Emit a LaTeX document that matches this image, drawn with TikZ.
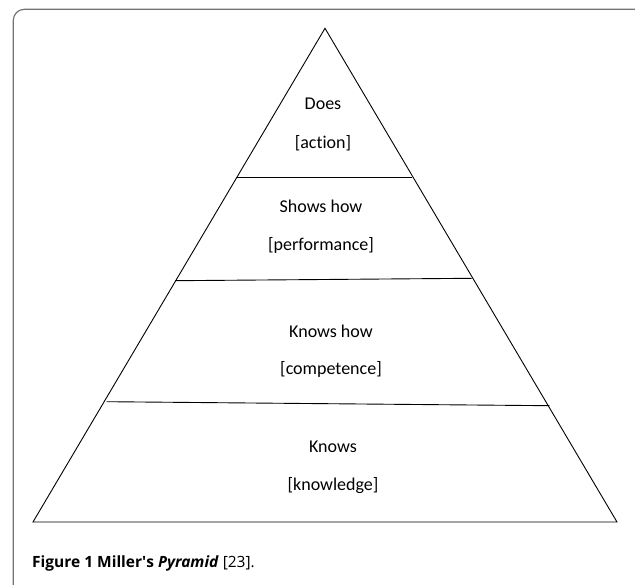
\documentclass[tikz,border=0pt]{standalone}
\usepackage{fontspec}
\newfontfamily\tierfont[Ligatures=NoCommon, RawFeature={-liga;-clig}]{Carlito}
\newfontfamily\capfont{Open Sans}
\definecolor{framegray}{gray}{0.45}
\begin{document}
\begin{tikzpicture}[x=1pt, y=-1pt,
    tier/.style={font=\tierfont\fontsize{18}{20}\selectfont, inner sep=0pt},
    edge/.style={line width=0.9pt}]
  \useasboundingbox (0,0) rectangle (635,585);
  \clip (0,0) rectangle (635,585);
  \draw[framegray, line width=1.2pt, rounded corners=11pt] (13.3,9.3) rectangle (660,610);
  \coordinate (top) at (325,28.3);
  \coordinate (bl) at (33,522);
  \coordinate (br) at (617,522);
  \draw[edge] (top) -- (bl) -- (br) -- cycle;
  \foreach \i/\xa/\ya/\xb/\yb in {1/236.7/177.3/412.3/177.3, 2/175.5/280.7/471.7/278.3, 3/106.7/401.7/549.3/405.7}{
    \coordinate (l\i) at (\xa,\ya);
    \coordinate (r\i) at (\xb,\yb);
    \draw[edge] (l\i) -- (r\i);}
  \foreach \nm/\x/\y/\first/\second in {does/323/104/Does/action, shows/321/206.7/Shows how/performance,
      knowshow/331/331/Knows how/competence, knows/333/447/Knows/knowledge}{
    \node[tier] (\nm) at (\x,\y) {\first};
    \node[tier] (\nm-sub) at (\x,\y+38.8) {[\second]};}
  \node[anchor=base west, inner sep=0pt, font=\capfont\fontsize{15.5}{18}\selectfont] (caption) at (32,567)
    {\textbf{Figure 1 Miller\textquotesingle s \textit{Pyramid}} [23].};
\end{tikzpicture}
\end{document}
